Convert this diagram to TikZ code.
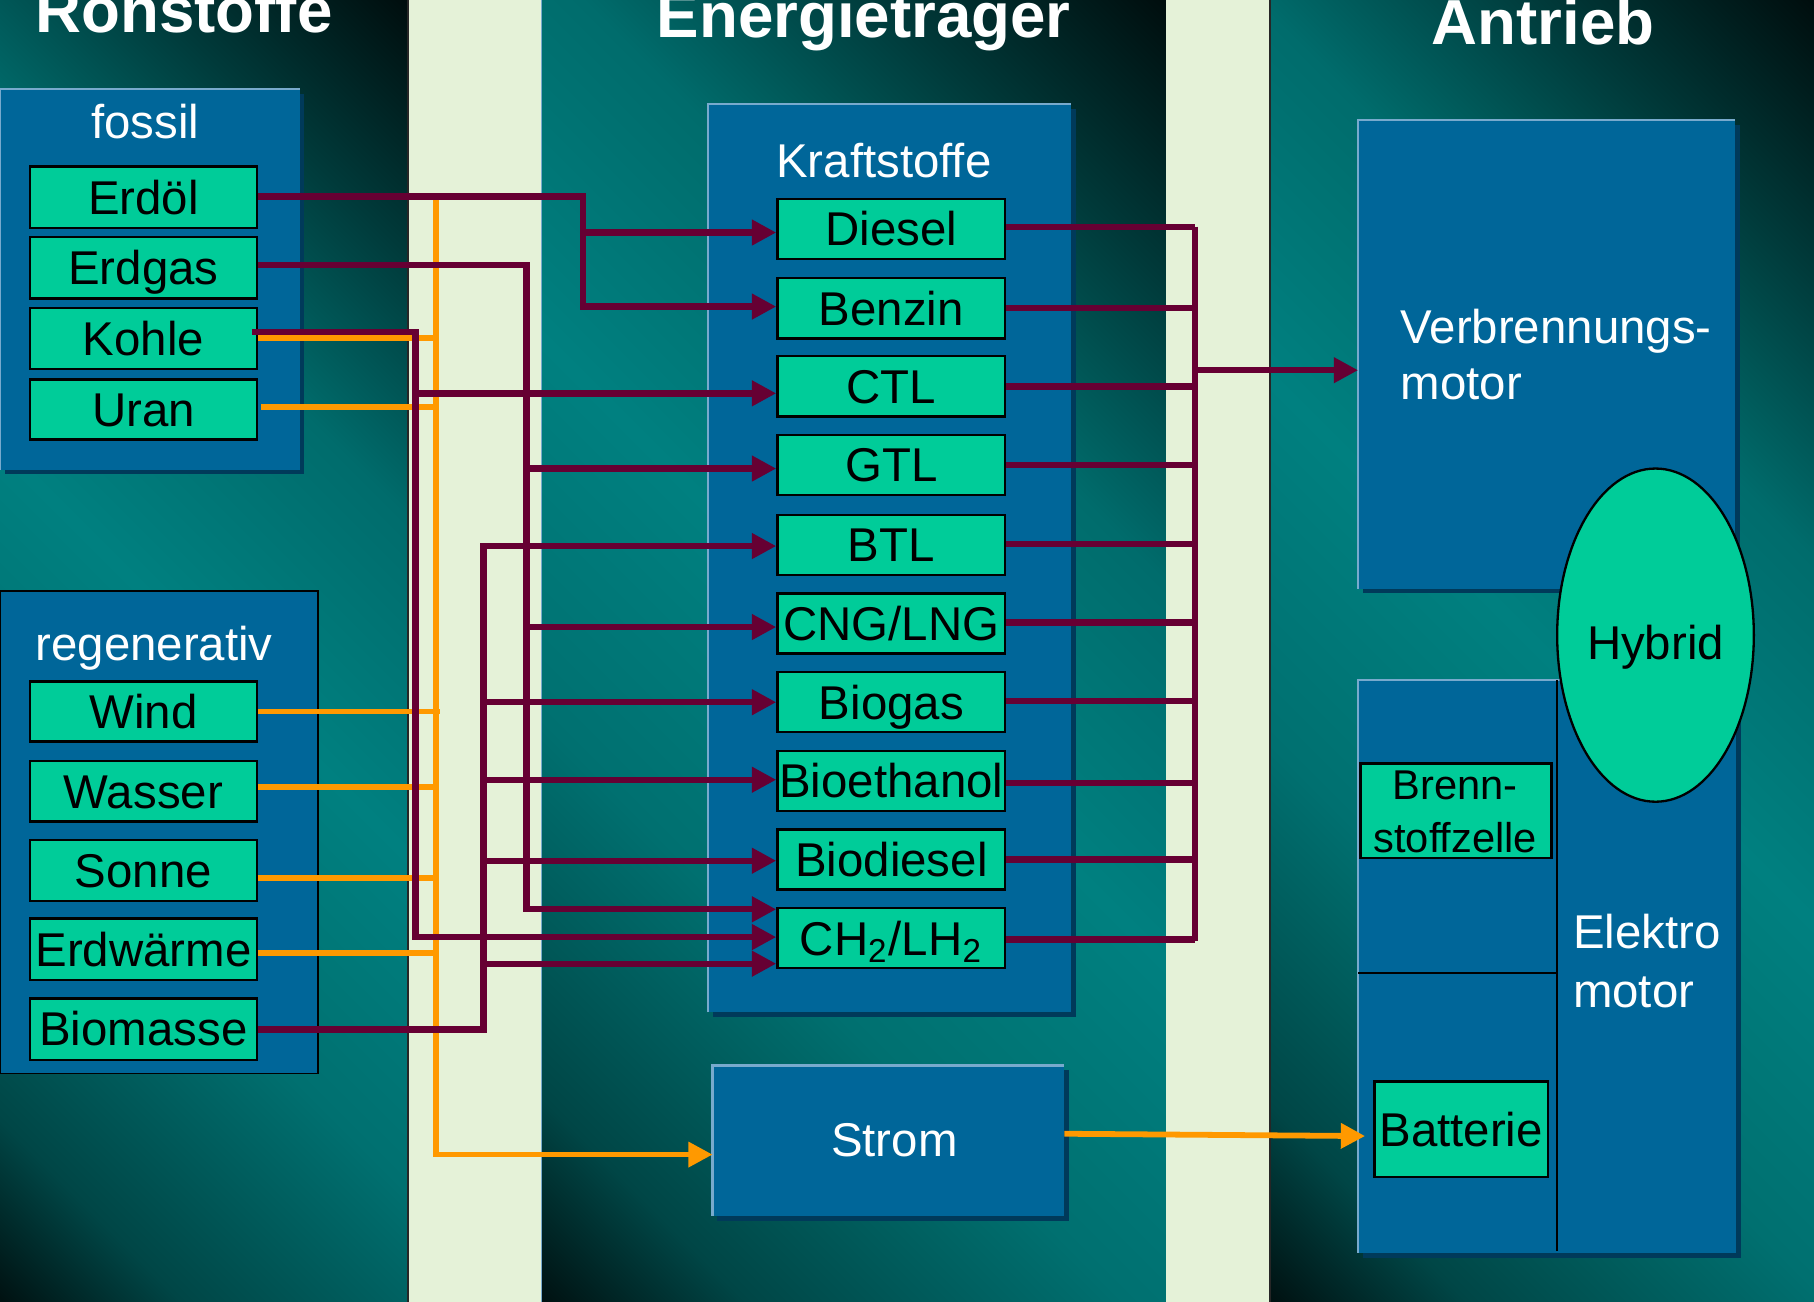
\documentclass[tikz,border=0pt]{standalone}
\usepackage{fontspec}
\setmainfont{Liberation Sans}
\usetikzlibrary{arrows.meta,shapes.geometric}
\definecolor{stripe}{RGB}{229,242,216}
\definecolor{boxblue}{RGB}{0,102,153}
\definecolor{boxshadow}{RGB}{0,58,90}
\definecolor{boxlight}{RGB}{120,170,205}
\definecolor{kgreen}{RGB}{0,204,153}
\definecolor{maroonc}{RGB}{102,0,51}
\definecolor{orng}{RGB}{255,153,0}
\definecolor{bgA}{RGB}{0,18,18}
\definecolor{bgB}{RGB}{0,70,70}
\definecolor{bgC}{RGB}{0,112,112}
\definecolor{bgD}{RGB}{0,128,128}
\definecolor{bgE}{RGB}{0,108,108}
\definecolor{bgF}{RGB}{0,58,58}
\definecolor{bgG}{RGB}{0,14,14}
\pgfdeclarehorizontalshading{colbg}{100bp}{color(0bp)=(bgA); color(14.6bp)=(bgA); color(22bp)=(bgB); color(36bp)=(bgC); color(50bp)=(bgD); color(64bp)=(bgE); color(75bp)=(bgF); color(85.4bp)=(bgG); color(100bp)=(bgG)}
\newcommand\fmain{\fontsize{11.66}{14}\selectfont}
\newcommand\boxdeco[1]{%
  \fill[boxshadow] ([yshift=-0.4mm]#1.north east) rectangle ([xshift=0.4mm,yshift=-0.4mm]#1.south east);
  \fill[boxshadow] ([xshift=0.4mm]#1.south west) rectangle ([xshift=0.4mm,yshift=-0.4mm]#1.south east);
  \draw[boxlight,line width=0.2mm] (#1.south west) -- (#1.north west) -- (#1.north east);}
\begin{document}
\begin{tikzpicture}[x=0.1mm,y=-0.1mm,
  gbox/.style={draw=black,line width=0.2mm,fill=kgreen,inner sep=0pt,minimum width=19.6mm,minimum height=5.2mm,text height=8.3pt,text depth=0pt,font=\fmain,text=black},
  fbox/.style={gbox,minimum width=19.7mm},
  wlabel/.style={text=white,font=\fmain,inner sep=0pt},
  blabel/.style={text=black,font=\fontsize{10.24}{12}\selectfont,inner sep=0pt},
  ttl/.style={text=white,font=\fontsize{15.65}{18}\selectfont\bfseries,inner sep=0pt,anchor=base west},
  bluebox/.style={fill=boxblue,inner sep=0pt,outer sep=0pt,anchor=north west},
  mline/.style={draw=maroonc,line width=0.55mm},
  oline/.style={draw=orng,line width=0.5mm},
  arr/.style={-{Triangle[length=2.1mm,width=2.1mm]}},
  divider/.style={draw=black,line width=0.2mm}]
\clip (0,0) rectangle (1568,1125);
\useasboundingbox (0,0) rectangle (1568,1125);
% backgrounds
\shade[shading=colbg,shading angle=45] (0,0) rectangle (352,1125);
\shade[shading=colbg,shading angle=45] (468,0) rectangle (1008,1125);
\shade[shading=colbg,shading angle=45] (1098,0) rectangle (1568,1125);
\fill[stripe] (352,0) rectangle (468,1125);
\fill[stripe] (1008,0) rectangle (1098,1125);
\draw[black!85,line width=0.15mm] (352.5,0) -- (352.5,1125);
\draw[black!85,line width=0.15mm] (1098,0) -- (1098,1125);
\draw[boxlight,line width=0.12mm] (468,0) -- (468,1125);
% titles
\node[ttl] (t1) at (30,28.5) {Rohstoffe};
\node[ttl] (t2) at (567,32.5) {Energietrager};
\node[ttl] (t3) at (1237,38.6) {Antrieb};
% blue boxes
\node[bluebox,minimum width=25.9mm,minimum height=32.9mm] (fossilbox) at (0,77) {};
\boxdeco{fossilbox}
\node[bluebox,draw=black,line width=0.15mm,minimum width=27.5mm,minimum height=41.7mm] (regbox) at (0,511) {};
\node[bluebox,minimum width=31.4mm,minimum height=78.5mm] (kraftbox) at (612,90) {};
\boxdeco{kraftbox}
\node[bluebox,minimum width=30.4mm,minimum height=13mm] (strom) at (616,921) {};
\boxdeco{strom}
\node[bluebox,minimum width=32.6mm,minimum height=40.5mm] (vbox) at (1174,104) {};
\boxdeco{vbox}
\node[bluebox,minimum width=32.7mm,minimum height=49.5mm] (ebox) at (1174,588) {};
\boxdeco{ebox}
\draw[divider] (1346,588) -- (1346,1081);
\draw[divider] (1174,841) -- (1346,841);
% white labels
\node[wlabel,anchor=base] (lfossil) at (125.5,119.6) {fossil};
\node[wlabel,anchor=base west] (lreg) at (30,571) {regenerativ};
\node[wlabel,anchor=base] (lkraft) at (764,153) {Kraftstoffe};
\node[wlabel,anchor=base] (lstrom) at (773,1000) {Strom};
\node[wlabel,anchor=base west] (lv1) at (1210,297) {Verbrennungs-};
\node[wlabel,anchor=base west] (lv2) at (1210,345) {motor};
\node[wlabel,anchor=base west] (le1) at (1359,820) {Elektro};
\node[wlabel,anchor=base west] (le2) at (1359,871) {motor};
% source boxes
\node[gbox,minimum height=5.3mm] (erdoel) at (124,170.5) {Erdöl};
\node[gbox,minimum height=5.3mm] (erdgas) at (124,231.5) {Erdgas};
\node[gbox,minimum height=5.3mm] (kohle) at (124,292.5) {Kohle};
\node[gbox] (uran) at (124,354) {Uran};
\node[gbox] (wind) at (124,615) {Wind};
\node[gbox] (wasser) at (124,684) {Wasser};
\node[gbox,minimum height=5.3mm] (sonne) at (124,752.5) {Sonne};
\node[gbox,minimum height=5.3mm] (erdwaerme) at (124,820.5) {Erdwärme};
\node[gbox,minimum height=5.3mm] (biomasse) at (124,889.5) {Biomasse};
% fuel boxes
\node[fbox] (diesel) at (770.5,198) {Diesel};
\node[fbox] (benzin) at (770.5,266.5) {Benzin};
\node[fbox] (ctl) at (770.5,334) {CTL};
\node[fbox] (gtl) at (770.5,402) {GTL};
\node[fbox] (btl) at (770.5,471) {BTL};
\node[fbox] (cng) at (770.5,539) {CNG/LNG};
\node[fbox] (biogas) at (770.5,607) {Biogas};
\node[fbox] (bioeth) at (770.5,675) {Bioethanol};
\node[fbox] (biodiesel) at (770.5,743) {Biodiesel};
\node[fbox] (ch2) at (770.5,811) {CH\textsubscript{2}/LH\textsubscript{2}};
% drive boxes
\node[gbox,minimum width=16.5mm,minimum height=8.15mm] (bsz) at (1258.5,700.75) {};
\node[blabel,anchor=base] (lbsz1) at (1258,691) {Brenn-};
\node[blabel,anchor=base] (lbsz2) at (1258,737) {stoffzelle};
\node[gbox,minimum width=15mm,minimum height=8.25mm] (batterie) at (1263,976) {Batterie};
\node[ellipse,draw=black,line width=0.2mm,fill=kgreen,inner sep=0pt,minimum width=17mm,minimum height=28.8mm,font=\fmain,text height=11.8pt,text depth=0pt] (hybrid) at (1431,549) {Hybrid\hspace{1.5mm}};
% orange connectors
\coordinate (obustop) at (377,170);
\coordinate (obusbot) at (377,998);
\coordinate (battin) at (1180,982);
\draw[oline,arr] (obustop) -- (obusbot) -- (strom.west |- obusbot);
\draw[oline] (kohle.east |- 0,292) -- (obustop |- 0,292);
\draw[oline] ([xshift=0.3mm]uran.east |- 0,352) -- (obustop |- 0,352);
\draw[oline] (wind.east |- 0,615) -- (380,615);
\draw[oline] (wasser.east |- 0,680) -- (obustop |- 0,680);
\draw[oline] (sonne.east |- 0,759) -- (obustop |- 0,759);
\draw[oline] (erdwaerme.east |- 0,824) -- (obustop |- 0,824);
\draw[oline,arr] (strom.east |- 0,980) -- (battin);
% maroon connectors: sources to fuels
\draw[mline,arr] (erdoel.east |- 0,170) -- (504,170) -- (504,265) -- (benzin.west |- 0,265);
\draw[mline,arr] (504,201) -- (diesel.west |- 0,201);
\draw[mline,arr] (erdgas.east |- 0,229) -- (455,229) -- (455,786) -- (ch2.west |- 0,786);
\draw[mline,arr] (455,405) -- (gtl.west |- 0,405);
\draw[mline,arr] (455,542) -- (cng.west |- 0,542);
\draw[mline,arr] ([xshift=-0.5mm]kohle.east |- 0,287) -- (359,287) -- (359,810) -- (ch2.west |- 0,810);
\draw[mline,arr] (359,340) -- (ctl.west |- 0,340);
\draw[mline,arr] (biomasse.east |- 0,890) -- (418,890) -- (418,472) -- (btl.west |- 0,472);
\draw[mline,arr] (418,607) -- (biogas.west |- 0,607);
\draw[mline,arr] (418,674) -- (bioeth.west |- 0,674);
\draw[mline,arr] (418,744) -- (biodiesel.west |- 0,744);
\draw[mline,arr] (418,833) -- (ch2.west |- 0,833);
% maroon connectors: fuels to engine
\coordinate (mbustop) at (1033,196);
\coordinate (mbusbot) at (1033,813);
\draw[mline] (mbustop) -- (mbusbot);
\draw[mline] (diesel.east |- 0,196) -- (mbustop);
\draw[mline] (benzin.east |- 0,266) -- (mbustop |- 0,266);
\draw[mline] (ctl.east |- 0,334) -- (mbustop |- 0,334);
\draw[mline] (gtl.east |- 0,402) -- (mbustop |- 0,402);
\draw[mline] (btl.east |- 0,470) -- (mbustop |- 0,470);
\draw[mline] (cng.east |- 0,538) -- (mbustop |- 0,538);
\draw[mline] (biogas.east |- 0,606) -- (mbustop |- 0,606);
\draw[mline] (bioeth.east |- 0,677) -- (mbustop |- 0,677);
\draw[mline] (biodiesel.east |- 0,743) -- (mbustop |- 0,743);
\draw[mline] (ch2.east |- 0,812) -- (mbustop |- 0,812);
\draw[mline,arr] (mbustop |- 0,320) -- (vbox.west |- 0,320);
\end{tikzpicture}
\end{document}
